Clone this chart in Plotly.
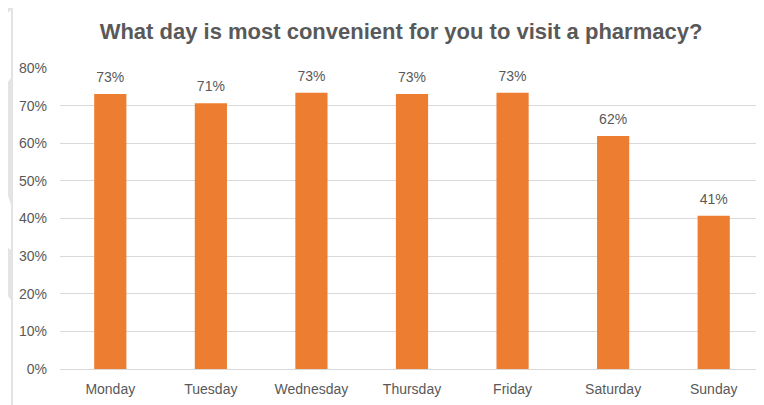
import plotly.graph_objects as go

days = ["Monday", "Tuesday", "Wednesday", "Thursday", "Friday", "Saturday", "Sunday"]
share = [0.731, 0.706, 0.734, 0.731, 0.734, 0.619, 0.407]
y_ticks = [0, 0.1, 0.2, 0.3, 0.4, 0.5, 0.6, 0.7, 0.8]

W, H = 764, 405
OFF = 8  # page body margin in the browser
L, T, PW, PH = 60, 68, 704, 301  # plot box as seen on screen
font_name = "Liberation Sans Narrow, Arial Narrow, Arial, sans-serif"


def px(x):
    return (x - L) / PW


def py(y):
    return (T + PH - y) / PH


fig = go.Figure()
fig.add_trace(go.Bar(
    x=days, y=share,
    marker_color="#ed7d31",
    marker_line=dict(color="#ed7d31", width=0),
    hoverinfo="skip",
))
# data labels, pushed up a little above the bar tops
fig.add_trace(go.Scatter(
    x=days, y=share, mode="markers+text",
    marker=dict(size=12, opacity=0),
    text=share, texttemplate="%{text:.0%}", textposition="top center",
    textfont=dict(size=14, color="#595959", family=font_name),
    cliponaxis=False, hoverinfo="skip",
))

# faint slide decorations around the chart (border + background shapes)
fig.add_shape(type="line", xref="paper", yref="paper",
              x0=px(12), x1=px(12), y0=py(405), y1=py(0),
              line=dict(color="#c8c8c8", width=1))
grey_paths = [
    [(0, 0), (11, 0), (11, 10), (0, 20)],
    [(11, 78), (11, 205), (0, 170), (0, 92)],
    [(0, 242), (11, 250), (11, 300), (0, 285)],
]
for pts in grey_paths:
    path = "M " + " L ".join(f"{px(x)} {py(y)}" for x, y in pts) + " Z"
    fig.add_shape(type="path", xref="paper", yref="paper", path=path,
                  fillcolor="#e4e4e4", line_width=0, layer="below")

fig.update_layout(
    width=W, height=H,
    paper_bgcolor="white", plot_bgcolor="white",
    margin=dict(l=L - OFF, r=W - L - PW + OFF, t=T - OFF, b=H - T - PH + OFF),
    bargap=0.68,
    showlegend=False,
    font=dict(family=font_name, color="#595959", size=14),
    title=dict(
        text="<b>What day is most convenient for you to visit a pharmacy?</b>",
        x=(401 - OFF) / W, xanchor="center", y=1 - (31 - OFF) / H, yanchor="middle",
        font=dict(size=22, color="#595959", family=font_name),
    ),
    xaxis=dict(showgrid=False, showline=False, ticks="",
               tickfont=dict(size=14, color="#595959"), ticklabelstandoff=10),
    yaxis=dict(range=[0, 0.8], tickvals=y_ticks, tickformat=".0%",
               showgrid=True, gridcolor="#d9d9d9", gridwidth=1,
               zeroline=True, zerolinecolor="#d9d9d9", zerolinewidth=1,
               showline=False, ticks="", ticklabelstandoff=12,
               tickfont=dict(size=14, color="#595959")),
)

fig.write_html("out.html")
